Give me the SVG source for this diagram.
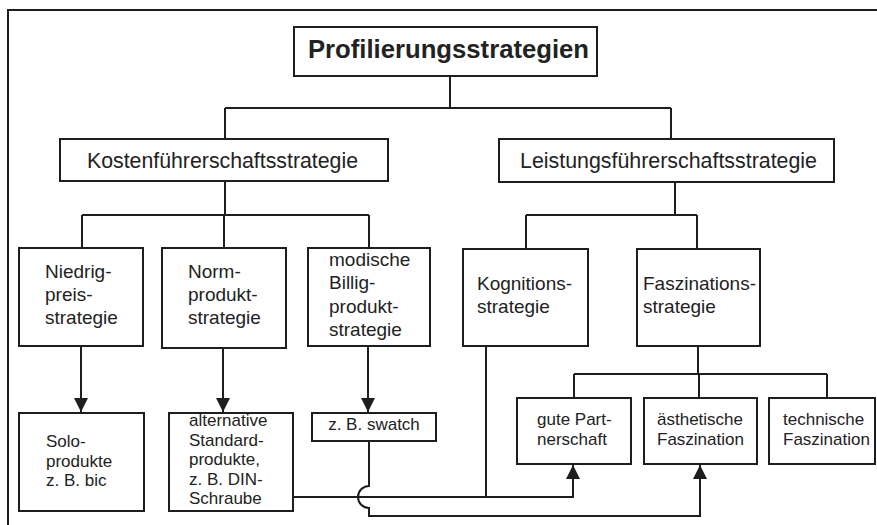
<svg xmlns="http://www.w3.org/2000/svg" width="877" height="525" viewBox="0 0 877 525">
<style>
.box{fill:#fff;stroke:#1e1e1e;stroke-width:2}
.ln{fill:none;stroke:#1e1e1e;stroke-width:2}
.t{font-family:"Liberation Sans",Arial,sans-serif;fill:#222}
.m{font-size:19px}
.s{font-size:17px}
</style>
<defs>
<marker id="ah" viewBox="0 0 14 14" refX="14" refY="7" markerWidth="14" markerHeight="14" markerUnits="userSpaceOnUse" orient="auto">
<path d="M0,0 L14,7 L0,14 Z" fill="#1e1e1e"/>
</marker>
</defs>
<rect width="877" height="525" fill="#fff"/>
<path class="ln" d="M8 525 V10 H877"/>
<g id="connectors">
<path class="ln" d="M450 76 V108 M225 108 H671 M225 108 V139 M671 108 V139"/>
<path class="ln" d="M225 181 V215 M82 215 H369 M82 215 V248 M224 215 V248 M369 215 V248"/>
<path class="ln" d="M675 182 V215 M526 215 H697 M526 215 V249 M697 215 V249"/>
<path class="ln" d="M698 346 V374 M574 374 H827 M574 374 V398 M699 374 V398 M827 374 V398"/>
<path class="ln" d="M81 346 V412" marker-end="url(#ah)"/>
<path class="ln" d="M223 348 V412" marker-end="url(#ah)"/>
<path class="ln" d="M368 346 V412" marker-end="url(#ah)"/>
<path class="ln" d="M486 346 V497"/>
<path class="ln" d="M293 497 H573 V465" marker-end="url(#ah)"/>
<path class="ln" d="M369 441 V486 A11 11 0 0 0 369 508 V516 H700 V465" marker-end="url(#ah)"/>
</g>
<g id="n-profil">
<rect class="box" x="294" y="27" width="303" height="49"/>
<text class="t" x="308" y="58" font-size="25" font-weight="bold" textLength="281" lengthAdjust="spacingAndGlyphs">Profilierungsstrategien</text>
</g>
<g id="n-kosten">
<rect class="box" x="60" y="139" width="328" height="42"/>
<text class="t" x="87" y="168" font-size="22" textLength="271" lengthAdjust="spacingAndGlyphs">Kostenführerschaftsstrategie</text>
</g>
<g id="n-leistung">
<rect class="box" x="499" y="139" width="335" height="43"/>
<text class="t" x="520" y="168" font-size="22" textLength="297" lengthAdjust="spacingAndGlyphs">Leistungsführerschaftsstrategie</text>
</g>
<g id="n-niedrig">
<rect class="box" x="19" y="248" width="124" height="98"/>
<text class="t m" x="45" y="278">Niedrig-<tspan x="45" dy="23">preis-</tspan><tspan x="45" dy="23">strategie</tspan></text>
</g>
<g id="n-norm">
<rect class="box" x="162" y="248" width="124" height="100"/>
<text class="t m" x="188" y="278">Norm-<tspan x="188" dy="23">produkt-</tspan><tspan x="188" dy="23">strategie</tspan></text>
</g>
<g id="n-modisch">
<rect class="box" x="308" y="248" width="122" height="98"/>
<text class="t m" x="329" y="266">modische<tspan x="329" dy="23.3">Billig-</tspan><tspan x="329" dy="23.3">produkt-</tspan><tspan x="329" dy="23.3">strategie</tspan></text>
</g>
<g id="n-kognition">
<rect class="box" x="463" y="249" width="125" height="97"/>
<text class="t m" x="477" y="290">Kognitions-<tspan x="477" dy="23">strategie</tspan></text>
</g>
<g id="n-faszination">
<rect class="box" x="637" y="249" width="123" height="97"/>
<text class="t m" x="643" y="290">Faszinations-<tspan x="643" dy="23">strategie</tspan></text>
</g>
<g id="n-solo">
<rect class="box" x="19" y="413" width="125" height="98"/>
<text class="t s" x="46" y="447">Solo-<tspan x="46" dy="19.5">produkte</tspan><tspan x="46" dy="19.5">z. B. bic</tspan></text>
</g>
<g id="n-alternative">
<rect class="box" x="169" y="413" width="124" height="98"/>
<text class="t s" x="189" y="426">alternative<tspan x="189" dy="19.5">Standard-</tspan><tspan x="189" dy="19.5">produkte,</tspan><tspan x="189" dy="19.5">z. B. DIN-</tspan><tspan x="189" dy="19.5">Schraube</tspan></text>
</g>
<g id="n-swatch">
<rect class="box" x="312" y="413" width="124" height="28"/>
<text class="t s" x="374" y="430" text-anchor="middle">z. B. swatch</text>
</g>
<g id="n-partner">
<rect class="box" x="517" y="398" width="114" height="66"/>
<text class="t s" x="537" y="425">gute Part-<tspan x="537" dy="20">nerschaft</tspan></text>
</g>
<g id="n-aesthetisch">
<rect class="box" x="644" y="398" width="113" height="66"/>
<text class="t s" x="657" y="425">ästhetische<tspan x="657" dy="20">Faszination</tspan></text>
</g>
<g id="n-technisch">
<rect class="box" x="769" y="398" width="106" height="66"/>
<text class="t s" x="783" y="425">technische<tspan x="783" dy="20">Faszination</tspan></text>
</g>
</svg>
